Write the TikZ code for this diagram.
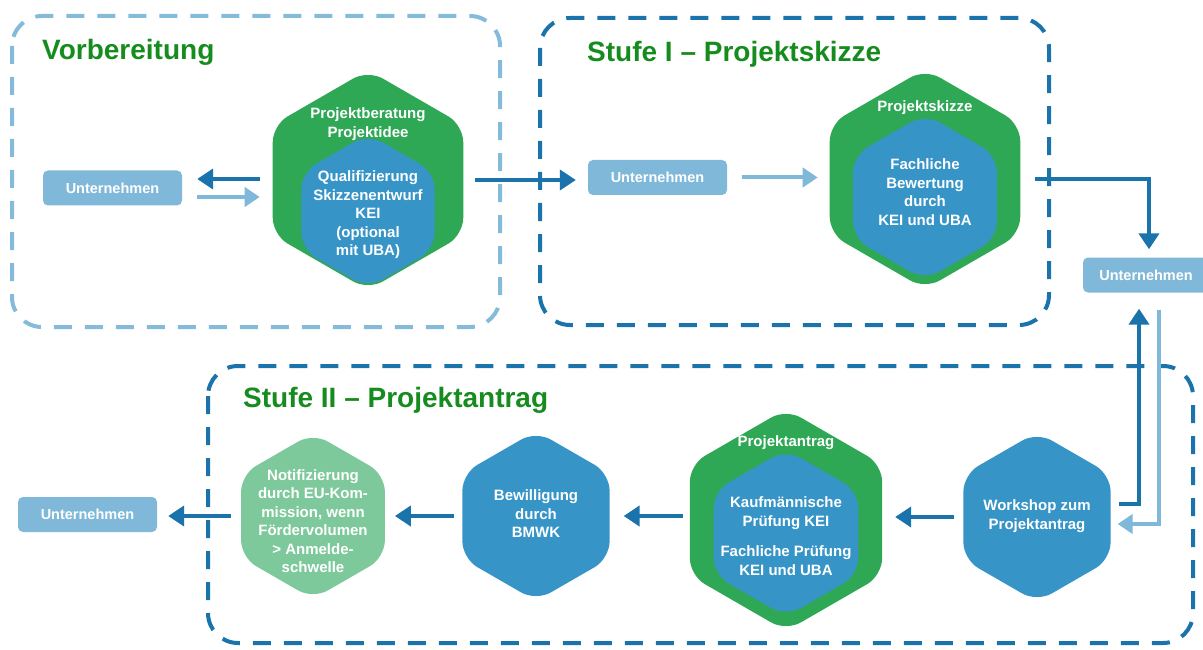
\documentclass[tikz,border=0pt]{standalone}
\usepackage{fontspec}
\setmainfont{Liberation Sans}
\usetikzlibrary{shapes.geometric,arrows.meta}

\definecolor{darkblue}{RGB}{27,115,171}
\definecolor{lightblue}{RGB}{127,184,217}
\definecolor{framelight}{RGB}{133,187,218}
\definecolor{hexblue}{RGB}{55,148,199}
\definecolor{hexgreen}{RGB}{47,168,85}
\definecolor{palegreen}{RGB}{126,201,155}
\definecolor{titlegreen}{RGB}{22,140,30}

\tikzset{
    stage-frame/.style = {line width=4pt, dash pattern=on 18pt off 13pt, rounded corners=30pt},
    stage-title/.style = {anchor=base west, text=titlegreen, inner sep=0pt, font=\bfseries\fontsize{28}{32}\selectfont},
    company-box/.style = {fill=lightblue, rounded corners=5pt, minimum width=139pt, minimum height=35pt, inner sep=0pt, text=white, font=\bfseries\fontsize{14.5}{17}\selectfont},
    hex/.style = {regular polygon, regular polygon sides=6, regular polygon rotate=30, rounded corners=17pt, inner sep=0pt, outer sep=0pt, minimum size=#1},
    hex-text/.style = {text=white, align=center, inner sep=0pt, font=\bfseries\fontsize{15}{18.5}\selectfont},
    dark-arrow/.style = {draw=darkblue, line width=4pt, -{Triangle[length=16pt,width=20pt]}},
    light-arrow/.style = {draw=lightblue, line width=4pt, -{Triangle[length=15pt,width=19pt]}},
}

\begin{document}
\begin{tikzpicture}[x=1pt,y=-1pt]
\useasboundingbox (0,0) rectangle (1203,650);

% frames of the three stages
\draw[stage-frame, draw=framelight] (12,16) rectangle (500,327);
\draw[stage-frame, draw=darkblue] (540,18) rectangle (1049,325);
\draw[stage-frame, draw=darkblue] (208,366) rectangle (1193,643);
\node[stage-title] (title-prep) at (42,60) {Vorbereitung};
\node[stage-title] (title-one) at (587,62) {Stufe I – Projektskizze};
\node[stage-title] (title-two) at (243,407) {Stufe II – Projektantrag};

% Vorbereitung
\node[company-box] (firma-a) at (112.5,188) {Unternehmen};
\node[hex=220pt, fill=hexgreen] (beratung) at (368,180) {};
\node[hex=154pt, fill=hexblue] (beratung-in) at (368,211) {};
\node[hex-text] (beratung-title) at (368,124) {Projektberatung\\Projektidee};
\node[hex-text] (beratung-text) at (368,215) {Qualifizierung\\Skizzenentwurf\\KEI\\(optional\\mit UBA)};

% Stufe I
\node[company-box] (firma-b) at (657.5,177.5) {Unternehmen};
\node[hex=220pt, fill=hexgreen] (skizze) at (925,179) {};
\node[hex=166pt, fill=hexblue] (skizze-in) at (925,197) {};
\node[hex-text] (skizze-title) at (925,108) {Projektskizze};
\node[hex-text] (skizze-text) at (925,192) {Fachliche\\Bewertung\\durch\\KEI und UBA};

\node[company-box, minimum width=126pt] (firma-c) at (1146,275) {Unternehmen};

% Stufe II
\node[hex=170pt, fill=hexblue] (workshop) at (1037,517) {};
\node[hex-text] (workshop-text) at (1037,516) {Workshop zum\\Projektantrag};
\node[hex=222pt, fill=hexgreen] (antrag) at (786,520) {};
\node[hex=167pt, fill=hexblue] (antrag-in) at (786,533) {};
\node[hex-text] (antrag-title) at (786,443) {Projektantrag};
\node[hex-text] (antrag-text) at (786,536) {Kaufmännische\\Prüfung KEI\\[12pt]Fachliche Prüfung\\KEI und UBA};
\node[hex=170pt, fill=hexblue] (bewilligung) at (536,516) {};
\node[hex-text] (bewilligung-text) at (536,514) {Bewilligung\\durch\\BMWK};
\node[hex=166pt, fill=palegreen] (notif) at (313,516) {};
\node[hex-text] (notif-text) at (313,521) {Notifizierung\\durch EU-Kom-\\mission, wenn\\Fördervolumen\\> Anmelde-\\schwelle};
\node[company-box] (firma-d) at (87.5,514.5) {Unternehmen};

% connectors
\draw[dark-arrow, shorten <=13pt, shorten >=15pt] ([yshift=9pt]firma-a.east -| beratung.west) -- ([yshift=9pt]firma-a.east);
\draw[light-arrow, shorten <=15pt, shorten >=13pt] ([yshift=-9pt]firma-a.east) -- ([yshift=-9pt]firma-a.east -| beratung.west);
\draw[dark-arrow, shorten <=12pt, shorten >=12pt] (beratung.east) -- (beratung.east -| firma-b.west);
\draw[light-arrow, shorten <=15pt, shorten >=12pt] (firma-b.east) -- (firma-b.east -| skizze.west);
\draw[dark-arrow, shorten <=15pt, shorten >=8pt] (skizze.east) -| ([xshift=3pt]firma-c.north);
\draw[dark-arrow, shorten <=8pt, shorten >=16pt] ([yshift=13pt]workshop.east) -| ([xshift=-7pt]firma-c.south);
\draw[light-arrow, shorten <=17pt, shorten >=7pt] ([xshift=13pt]firma-c.south) |- ([yshift=-7pt]workshop.east);
\draw[dark-arrow, shorten <=9pt, shorten >=13pt] (workshop.west) -- (workshop.west -| antrag.east);
\draw[dark-arrow, shorten <=7pt, shorten >=14pt] (bewilligung.east -| antrag.west) -- (bewilligung.east);
\draw[dark-arrow, shorten <=8pt, shorten >=10pt] (bewilligung.west) -- (bewilligung.west -| notif.east);
\draw[dark-arrow, shorten <=10pt, shorten >=11pt] (notif.west) -- (notif.west -| firma-d.east);
\end{tikzpicture}
\end{document}
